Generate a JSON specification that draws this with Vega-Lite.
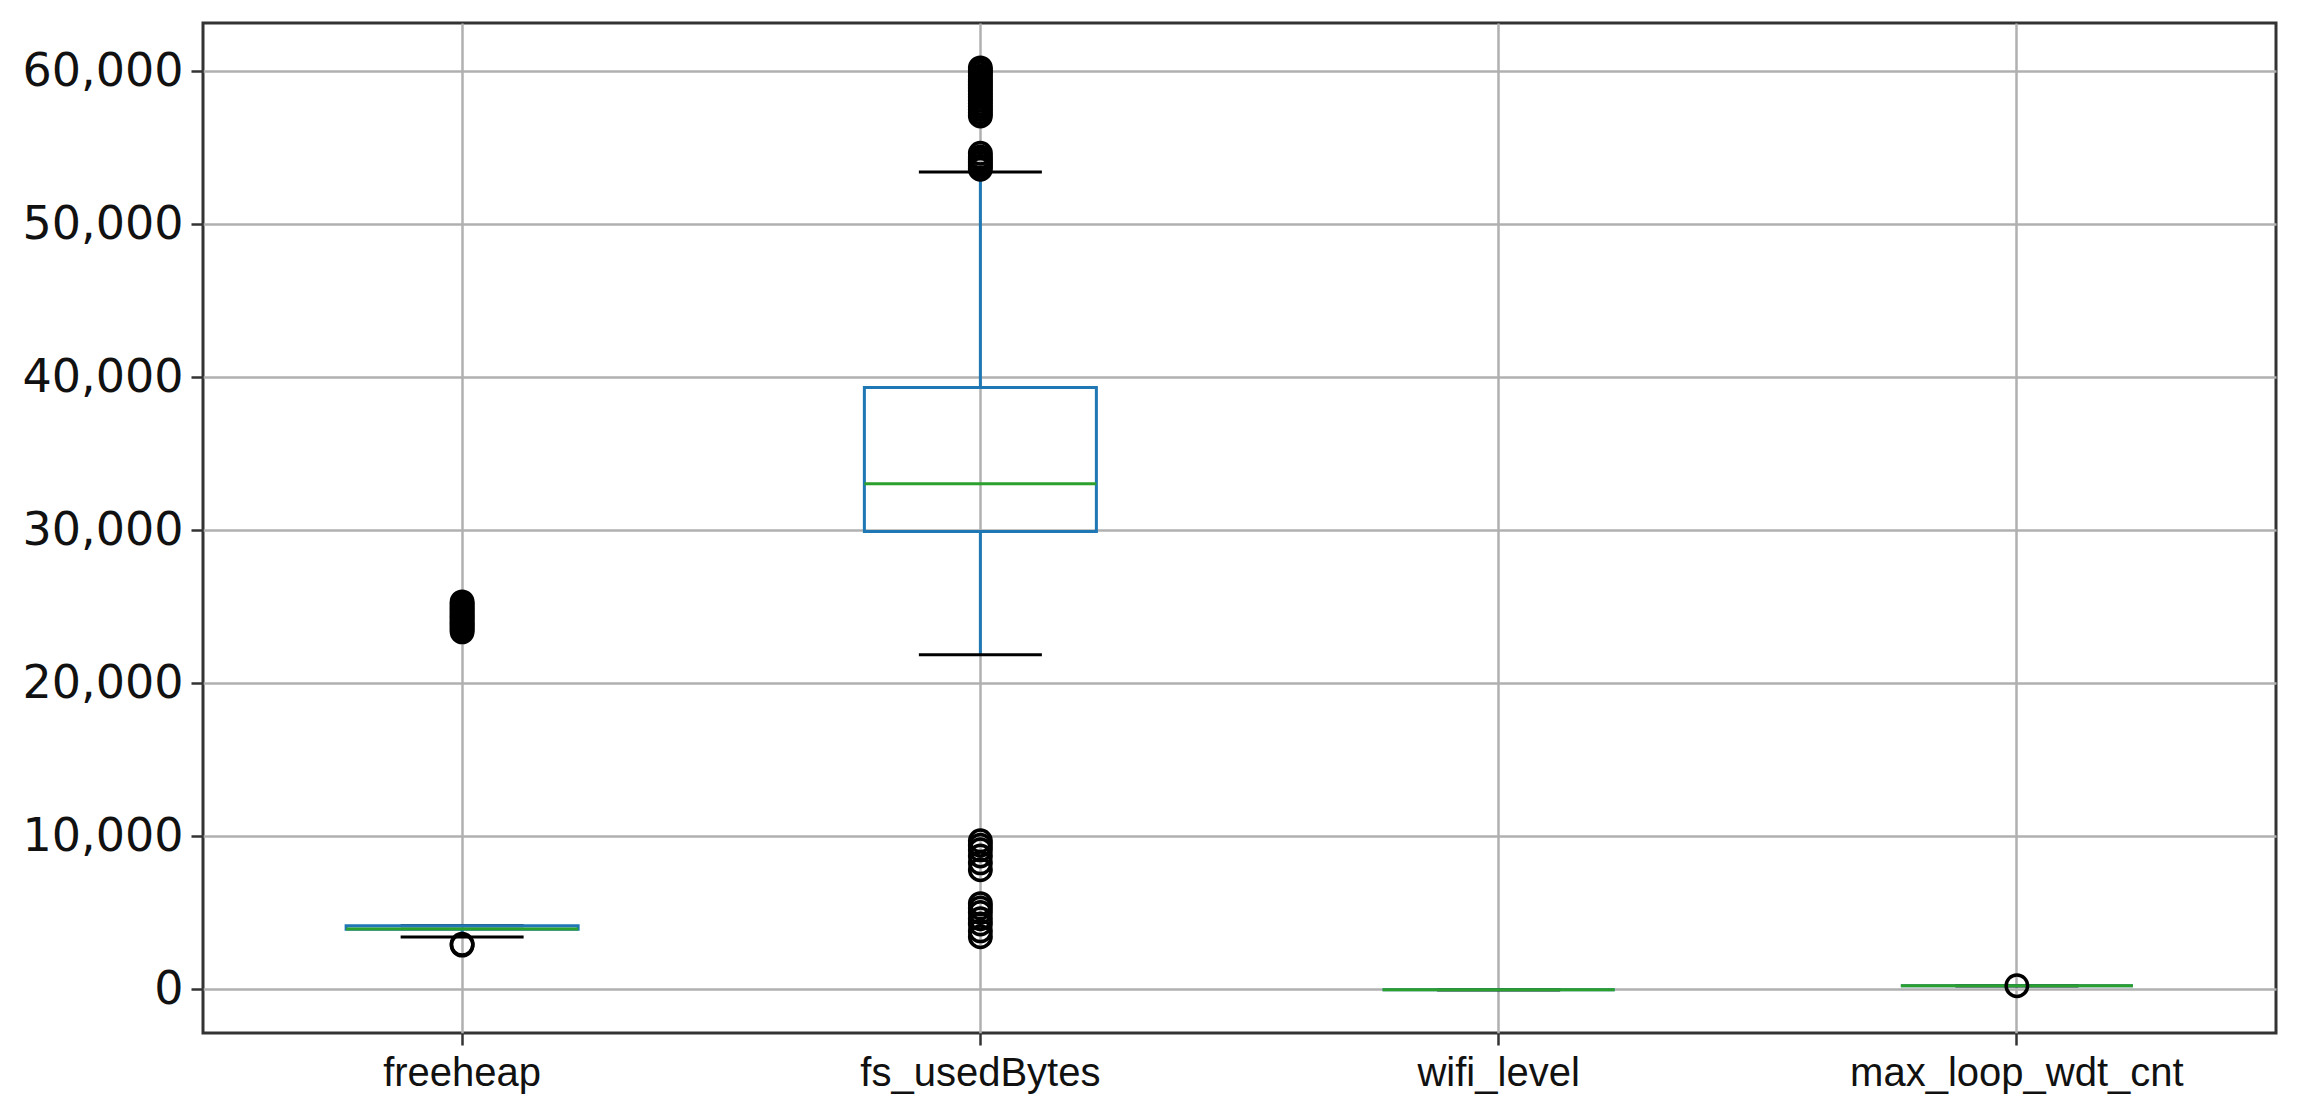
{
  "$schema": "https://vega.github.io/schema/vega-lite/v6.json",
  "width": 2073,
  "height": 1010,
  "autosize": {"type": "none"},
  "padding": {"left": 203, "top": 23, "right": 23, "bottom": 84},
  "background": "white",
  "config": {
    "view": {"stroke": "#333333", "strokeWidth": 3},
    "axisX": {
      "grid": true, "gridColor": "#b0b0b0", "gridWidth": 2.5,
      "domain": false, "tickColor": "#333333", "tickSize": 12, "tickWidth": 2.5,
      "labelFont": "Liberation Sans", "labelFontSize": 40, "labelColor": "#111111",
      "labelPadding": 8, "labelAngle": 0, "bandPosition": 0.5, "labelLimit": 600
    },
    "axisY": {
      "grid": true, "gridColor": "#b0b0b0", "gridWidth": 2.5,
      "domain": false, "tickColor": "#333333", "tickSize": 12, "tickWidth": 2.5,
      "labelFont": "DejaVu Sans", "labelFontSize": 46, "labelColor": "#111111",
      "labelPadding": 8, "labelLimit": 600
    }
  },
  "datasets": {
    "summary": [
      {"var": "freeheap", "lo": 3400, "q1": 3900, "med": 3920, "q3": 4137, "hi": 4140},
      {"var": "fs_usedBytes", "lo": 21850, "q1": 29910, "med": 33030, "q3": 39320, "hi": 53420},
      {"var": "wifi_level", "lo": -55, "q1": -55, "med": -55, "q3": -55, "hi": -55},
      {"var": "max_loop_wdt_cnt", "lo": 215, "q1": 215, "med": 215, "q3": 215, "hi": 215}
    ],
    "outliers": [
      {"var": "freeheap", "value": 2870},
      {"var": "freeheap", "value": 2920},
      {"var": "freeheap", "value": 23350},
      {"var": "freeheap", "value": 23500},
      {"var": "freeheap", "value": 23650},
      {"var": "freeheap", "value": 23800},
      {"var": "freeheap", "value": 23950},
      {"var": "freeheap", "value": 24100},
      {"var": "freeheap", "value": 24250},
      {"var": "freeheap", "value": 24400},
      {"var": "freeheap", "value": 24550},
      {"var": "freeheap", "value": 24700},
      {"var": "freeheap", "value": 24850},
      {"var": "freeheap", "value": 25000},
      {"var": "freeheap", "value": 25150},
      {"var": "freeheap", "value": 25310},
      {"var": "fs_usedBytes", "value": 3420},
      {"var": "fs_usedBytes", "value": 3800},
      {"var": "fs_usedBytes", "value": 4250},
      {"var": "fs_usedBytes", "value": 4600},
      {"var": "fs_usedBytes", "value": 5000},
      {"var": "fs_usedBytes", "value": 5300},
      {"var": "fs_usedBytes", "value": 5580},
      {"var": "fs_usedBytes", "value": 7800},
      {"var": "fs_usedBytes", "value": 8250},
      {"var": "fs_usedBytes", "value": 8700},
      {"var": "fs_usedBytes", "value": 9100},
      {"var": "fs_usedBytes", "value": 9400},
      {"var": "fs_usedBytes", "value": 9690},
      {"var": "fs_usedBytes", "value": 53600},
      {"var": "fs_usedBytes", "value": 53800},
      {"var": "fs_usedBytes", "value": 54000},
      {"var": "fs_usedBytes", "value": 54200},
      {"var": "fs_usedBytes", "value": 54400},
      {"var": "fs_usedBytes", "value": 54640},
      {"var": "fs_usedBytes", "value": 57080},
      {"var": "fs_usedBytes", "value": 57300},
      {"var": "fs_usedBytes", "value": 57500},
      {"var": "fs_usedBytes", "value": 57700},
      {"var": "fs_usedBytes", "value": 57900},
      {"var": "fs_usedBytes", "value": 58100},
      {"var": "fs_usedBytes", "value": 58300},
      {"var": "fs_usedBytes", "value": 58500},
      {"var": "fs_usedBytes", "value": 58700},
      {"var": "fs_usedBytes", "value": 58900},
      {"var": "fs_usedBytes", "value": 59100},
      {"var": "fs_usedBytes", "value": 59300},
      {"var": "fs_usedBytes", "value": 59500},
      {"var": "fs_usedBytes", "value": 59700},
      {"var": "fs_usedBytes", "value": 59900},
      {"var": "fs_usedBytes", "value": 60050},
      {"var": "fs_usedBytes", "value": 60220},
      {"var": "max_loop_wdt_cnt", "value": 215}
    ]
  },
  "encoding": {
    "x": {
      "field": "var", "type": "nominal",
      "sort": ["freeheap", "fs_usedBytes", "wifi_level", "max_loop_wdt_cnt"],
      "scale": {"paddingInner": 0, "paddingOuter": 0},
      "axis": {"title": null}
    }
  },
  "layer": [
    {
      "data": {"name": "summary"},
      "mark": {"type": "rule", "color": "#1f77b4", "strokeWidth": 3},
      "encoding": {
        "y": {"field": "q3", "type": "quantitative",
              "scale": {"domain": [-2876, 63157], "nice": false, "zero": false},
              "axis": {"title": null, "format": ",d", "values": [0, 10000, 20000, 30000, 40000, 50000, 60000]}},
        "y2": {"field": "hi"}
      }
    },
    {
      "data": {"name": "summary"},
      "mark": {"type": "rule", "color": "#1f77b4", "strokeWidth": 3},
      "encoding": {
        "y": {"field": "lo", "type": "quantitative", "axis": {"title": null}},
        "y2": {"field": "q1"}
      }
    },
    {
      "data": {"name": "summary"},
      "mark": {"type": "tick", "color": "#000000", "size": 123, "thickness": 3, "opacity": 1},
      "encoding": {
        "y": {"field": "hi", "type": "quantitative", "axis": {"title": null}}
      }
    },
    {
      "data": {"name": "summary"},
      "mark": {"type": "tick", "color": "#000000", "size": 123, "thickness": 3, "opacity": 1},
      "encoding": {
        "y": {"field": "lo", "type": "quantitative", "axis": {"title": null}}
      }
    },
    {
      "data": {"name": "summary"},
      "mark": {"type": "bar", "width": 232, "fill": null, "fillOpacity": 0, "stroke": "#1f77b4", "strokeWidth": 3},
      "encoding": {
        "y": {"field": "q1", "type": "quantitative", "axis": {"title": null}},
        "y2": {"field": "q3"}
      }
    },
    {
      "data": {"name": "summary"},
      "mark": {"type": "tick", "color": "#2ca02c", "size": 232, "thickness": 3, "opacity": 1},
      "encoding": {
        "y": {"field": "med", "type": "quantitative", "axis": {"title": null}}
      }
    },
    {
      "data": {"name": "outliers"},
      "mark": {"type": "point", "shape": "circle", "filled": false, "color": "#000000", "size": 460, "strokeWidth": 3.5, "opacity": 1},
      "encoding": {
        "y": {"field": "value", "type": "quantitative", "axis": {"title": null}}
      }
    }
  ]
}
